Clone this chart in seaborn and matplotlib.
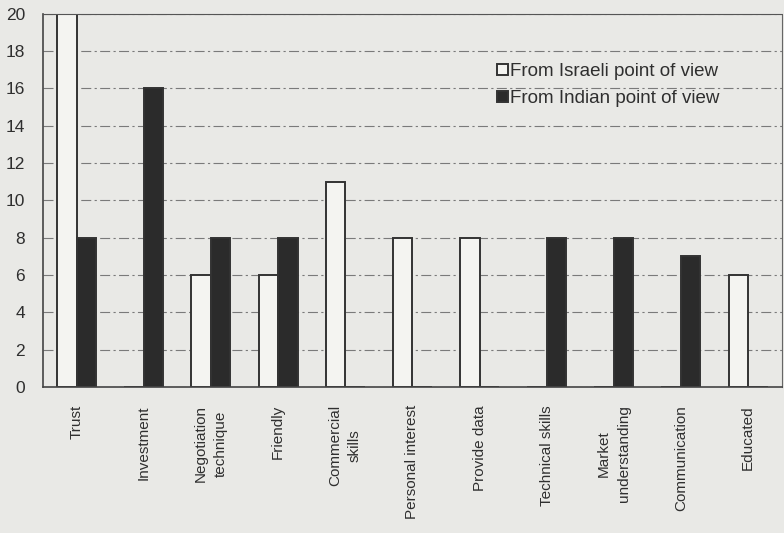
import pandas as pd
import matplotlib
matplotlib.use("Agg")
import matplotlib.pyplot as plt
import seaborn as sns
from matplotlib.ticker import FixedLocator

# ── Data ────────────────────────────────────────────────
TRAITS = ["Trust", "Investment", "Negotiation\ntechnique", "Friendly",
          "Commercial\nskills", "Personal interest", "Provide data",
          "Technical skills", "Market\nunderstanding", "Communication",
          "Educated"]
ISRAELI = [20, 0, 6, 6, 11, 8, 8, 0, 0, 0, 6]
INDIAN  = [8, 16, 8, 8, 0, 0, 0, 8, 8, 7, 0]
SERIES  = ["From Israeli point of view", "From Indian point of view"]
# ────────────────────────────────────────────────────────

df = pd.DataFrame({
    "trait": TRAITS * 2,
    "count": ISRAELI + INDIAN,
    "view":  [SERIES[0]] * len(TRAITS) + [SERIES[1]] * len(TRAITS),
})

BG = "#e9e9e6"
TXT = "#2f2f2f"
sns.set_style("white")
plt.rcParams["font.family"] = ["Liberation Sans", "DejaVu Sans"]

fig = plt.figure(figsize=(7.84, 5.33), dpi=100, facecolor=BG)
ax = fig.add_axes([0.055, 0.274, 0.942, 0.700])
ax.set_facecolor(BG)

sns.barplot(data=df, x="trait", y="count", hue="view",
            palette=["#f4f4f1", "#2b2b2b"], edgecolor="#333333",
            linewidth=1.4, width=0.58, saturation=1, ax=ax)

ax.set_ylim(0, 20)
ax.set_xlim(-0.5, len(TRAITS) - 0.5)
ax.set_yticks(range(0, 21, 2))
ax.yaxis.grid(True, linestyle=(0, (9, 3, 2, 3)), color="#7a7a7a", linewidth=0.8)
ax.set_axisbelow(True)

ax.set_xlabel("")
ax.set_ylabel("")
ax.set_xticks(range(len(TRAITS)))
ax.set_xticklabels(TRAITS, rotation=90, va="top", ha="center",
                   fontsize=11, color=TXT, multialignment="center",
                   linespacing=1.5)
ax.tick_params(axis="x", length=0, pad=13)
ax.xaxis.set_minor_locator(FixedLocator([i + 0.5 for i in range(len(TRAITS) - 1)]))
ax.tick_params(axis="x", which="minor", length=4, direction="in", color="#555555")
ax.tick_params(axis="y", length=3, direction="out", labelsize=12.5, pad=10,
               labelcolor=TXT, color="#555555")

for side in ["left", "bottom"]:
    ax.spines[side].set_color("#444444")
    ax.spines[side].set_linewidth(1.2)
ax.spines["top"].set_linestyle((0, (1, 1)))
ax.spines["top"].set_color("#555555")
ax.spines["right"].set_linestyle((0, (1, 1)))
ax.spines["right"].set_color("#666666")

leg = ax.legend(loc="upper left", bbox_to_anchor=(0.615, 0.868), frameon=False,
                fontsize=13.5, handlelength=0.55, handleheight=0.55,
                handletextpad=0.15, labelspacing=0.55, borderpad=0,
                borderaxespad=0)
for t in leg.get_texts():
    t.set_color(TXT)

fig.savefig("out.png", dpi=100, facecolor=BG)
